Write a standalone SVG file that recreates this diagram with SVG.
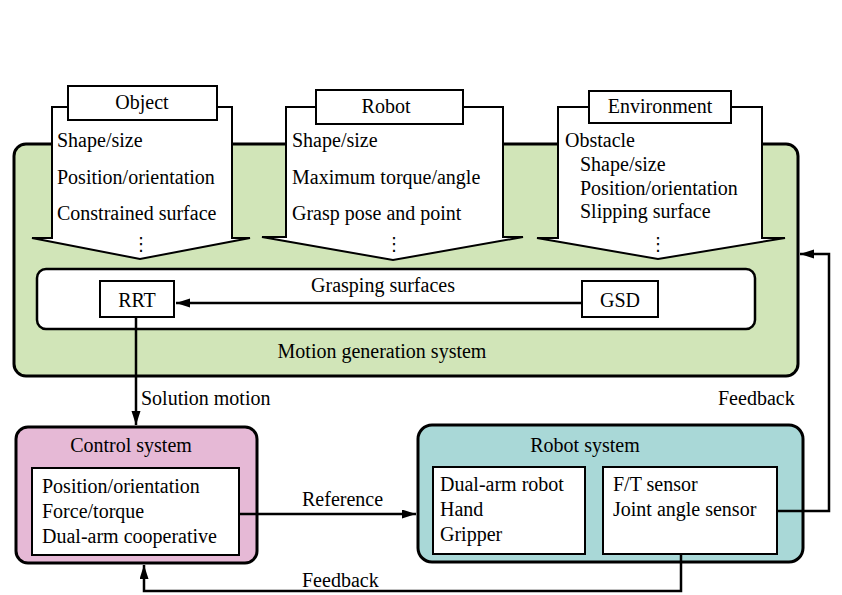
<svg xmlns="http://www.w3.org/2000/svg" width="842" height="595" viewBox="0 0 842 595">
<defs>
<marker id="ah" markerUnits="userSpaceOnUse" markerWidth="16" markerHeight="10" refX="14" refY="4.5" orient="auto">
<path d="M0,0 L14,4.5 L0,9 Z" fill="#000"/>
</marker>
</defs>
<rect width="842" height="595" fill="#fff"/>

<g id="motion-generation-system">
<rect x="14" y="144" width="784" height="232" rx="12" fill="#d1e5b8" stroke="#000" stroke-width="3"/>
<text x="382" y="358" text-anchor="middle" font-size="20" font-family="Liberation Serif">Motion generation system</text>
</g>

<g id="object-input">
<path d="M52,107 L52,238 L32,238 L140,259 L250,238 L232,238 L232,107 Z" fill="#fff" stroke="#000" stroke-width="2"/>
<rect x="68" y="86" width="149" height="34" fill="#fff" stroke="#000" stroke-width="2"/>
<text x="142" y="109" text-anchor="middle" font-size="20" font-family="Liberation Serif">Object</text>
<text x="57" y="147" font-size="20" font-family="Liberation Serif">Shape/size</text>
<text x="57" y="184" font-size="20" font-family="Liberation Serif">Position/orientation</text>
<text x="57" y="220" font-size="20" font-family="Liberation Serif">Constrained surface</text>
<text x="141" y="250" text-anchor="middle" font-size="18" font-family="DejaVu Sans">⋮</text>
</g>

<g id="robot-input">
<path d="M286,107 L286,237 L262,237 L393,260 L523,237 L503,237 L503,107 Z" fill="#fff" stroke="#000" stroke-width="2"/>
<rect x="316" y="90" width="147" height="34" fill="#fff" stroke="#000" stroke-width="2"/>
<text x="386" y="113" text-anchor="middle" font-size="20" font-family="Liberation Serif">Robot</text>
<text x="292" y="147" font-size="20" font-family="Liberation Serif">Shape/size</text>
<text x="292" y="184" font-size="20" font-family="Liberation Serif">Maximum torque/angle</text>
<text x="292" y="220" font-size="20" font-family="Liberation Serif">Grasp pose and point</text>
<text x="394" y="250" text-anchor="middle" font-size="18" font-family="DejaVu Sans">⋮</text>
</g>

<g id="environment-input">
<path d="M558,107 L558,238 L537,238 L658,259 L785,238 L762,238 L762,107 Z" fill="#fff" stroke="#000" stroke-width="2"/>
<rect x="589" y="91" width="142" height="32" fill="#fff" stroke="#000" stroke-width="2"/>
<text x="660" y="113" text-anchor="middle" font-size="20" font-family="Liberation Serif">Environment</text>
<text x="565" y="147" font-size="20" font-family="Liberation Serif">Obstacle</text>
<text x="580" y="171" font-size="20" font-family="Liberation Serif">Shape/size</text>
<text x="580" y="195" font-size="20" font-family="Liberation Serif">Position/orientation</text>
<text x="580" y="218" font-size="20" font-family="Liberation Serif">Slipping surface</text>
<text x="658" y="250" text-anchor="middle" font-size="18" font-family="DejaVu Sans">⋮</text>
</g>

<g id="planner">
<rect x="37" y="269" width="718" height="60" rx="9" fill="#fff" stroke="#000" stroke-width="2.5"/>
</g>

<g id="rrt">
<rect x="100" y="281" width="74" height="36" fill="#fff" stroke="#000" stroke-width="2"/>
<text x="137" y="307" text-anchor="middle" font-size="20" font-family="Liberation Serif">RRT</text>
</g>

<g id="gsd">
<rect x="582" y="281" width="76" height="36" fill="#fff" stroke="#000" stroke-width="2"/>
<text x="620" y="307" text-anchor="middle" font-size="20" font-family="Liberation Serif">GSD</text>
</g>

<g id="control-system">
<rect x="16" y="427" width="241" height="136" rx="12" fill="#e6b9d6" stroke="#000" stroke-width="3"/>
<rect x="32" y="468" width="207" height="87" fill="#fff" stroke="#000" stroke-width="2"/>
<text x="131" y="452" text-anchor="middle" font-size="20" font-family="Liberation Serif">Control system</text>
<text x="42" y="493" font-size="20" font-family="Liberation Serif">Position/orientation</text>
<text x="42" y="518" font-size="20" font-family="Liberation Serif">Force/torque</text>
<text x="42" y="543" font-size="20" font-family="Liberation Serif">Dual-arm cooperative</text>
</g>

<g id="robot-system">
<rect x="418" y="425" width="385" height="137" rx="14" fill="#a9d8d7" stroke="#000" stroke-width="3"/>
<rect x="433" y="467" width="152" height="87" fill="#fff" stroke="#000" stroke-width="2"/>
<rect x="603" y="467" width="174" height="87" fill="#fff" stroke="#000" stroke-width="2"/>
<text x="585" y="452" text-anchor="middle" font-size="20" font-family="Liberation Serif">Robot system</text>
<text x="440" y="491" font-size="20" font-family="Liberation Serif">Dual-arm robot</text>
<text x="440" y="516" font-size="20" font-family="Liberation Serif">Hand</text>
<text x="440" y="541" font-size="20" font-family="Liberation Serif">Gripper</text>
<text x="613" y="491" font-size="20" font-family="Liberation Serif">F/T sensor</text>
<text x="613" y="516" font-size="20" font-family="Liberation Serif">Joint angle sensor</text>
</g>

<g id="connectors">
<path d="M582,303 H176" fill="none" stroke="#000" stroke-width="2.5" marker-end="url(#ah)"/>
<path d="M136,317 V425" fill="none" stroke="#000" stroke-width="2.5" marker-end="url(#ah)"/>
<path d="M239,514 H416" fill="none" stroke="#000" stroke-width="2.5" marker-end="url(#ah)"/>
<path d="M681,554 V591 H144 V565" fill="none" stroke="#000" stroke-width="2.5" marker-end="url(#ah)"/>
<path d="M777,511 H829 V254 H800" fill="none" stroke="#000" stroke-width="2.5" marker-end="url(#ah)"/>
<text x="383" y="292" text-anchor="middle" font-size="20" font-family="Liberation Serif">Grasping surfaces</text>
<text x="141" y="405" font-size="20" font-family="Liberation Serif">Solution motion</text>
<text x="302" y="506" font-size="20" font-family="Liberation Serif">Reference</text>
<text x="302" y="587" font-size="20" font-family="Liberation Serif">Feedback</text>
<text x="718" y="405" font-size="20" font-family="Liberation Serif">Feedback</text>
</g>
</svg>
